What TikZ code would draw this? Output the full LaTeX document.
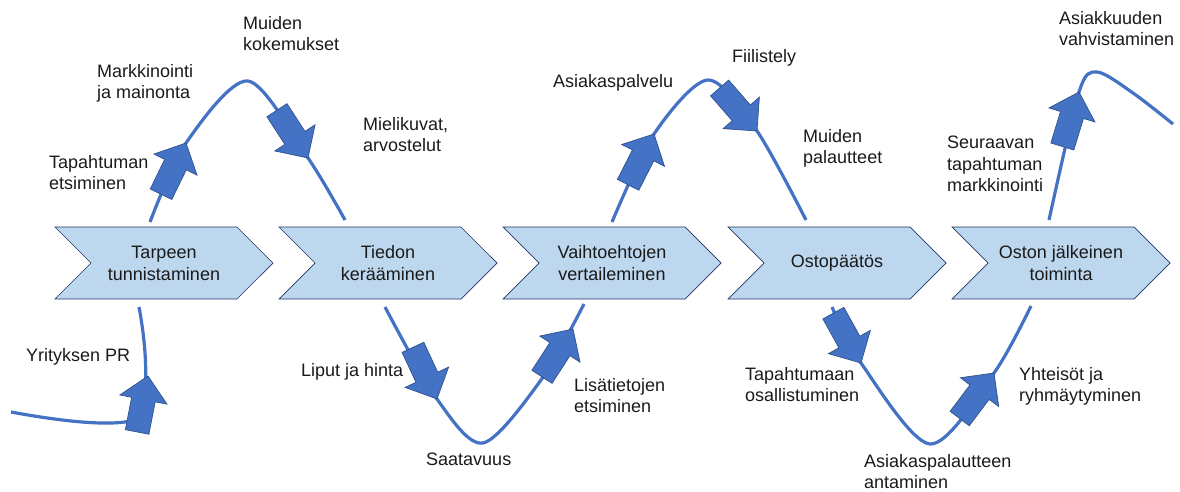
\documentclass[tikz,border=0pt]{standalone}
\usepackage{fontspec}
\setmainfont{Liberation Sans}
\usetikzlibrary{shapes.symbols}
\definecolor{stepfill}{HTML}{BDD7EE}
\definecolor{stepedge}{HTML}{203864}
\definecolor{pathblue}{HTML}{4472C4}
\definecolor{arrowedge}{HTML}{2F528F}
\definecolor{labelink}{HTML}{1A1A1A}
\tikzset{
  stage/.style={signal,signal from=west,signal to=east,signal pointer angle=90,
                draw=stepedge,fill=stepfill,line width=0.7pt,
                minimum width=218pt,minimum height=72pt,inner sep=0pt,
                align=center,font=\fontsize{18}{22}\selectfont,text=labelink},
  journey/.style={draw=pathblue,line width=3.2pt},
  push/.style={draw=arrowedge,fill=pathblue,line width=0.7pt,line join=miter},
  pusharrow/.pic={
    \path[push] (0,0) -- (-24,24) -- (-24,12) -- (-57,12)
                -- (-57,-12) -- (-24,-12) -- (-24,-24) -- cycle;
  },
  touch/.style={anchor=north west,inner sep=0pt,align=left,
                font=\fontsize{18}{21.5}\selectfont,text=labelink}
}
\begin{document}
\begin{tikzpicture}[x=1pt,y=-1pt]
  \useasboundingbox (0,0) rectangle (1180,492);
  % stages
  \node[stage] (need)    at (164,263)  {Tarpeen\\tunnistaminen};
  \node[stage] (info)    at (388,263)  {Tiedon\\kerääminen};
  \node[stage] (compare) at (612,263)  {Vaihtoehtojen\\vertaileminen};
  \node[stage] (decide)  at (837,263)  {Ostopäätös};
  \node[stage] (after)   at (1061,263) {Oston jälkeinen\\toiminta};
  % customer path
  \draw[journey] (11,412) .. controls (60,421) and (110,427) .. (135,420)
                 .. controls (148,410) and (149,360) .. (139,307);
  \draw[journey] plot[smooth] coordinates {(150,222) (186,143) (248,81) (308,158) (345,220)};
  \draw[journey] plot[smooth] coordinates {(385,307) (437,399) (483,443) (541,380) (584,304)};
  \draw[journey] plot[smooth] coordinates {(612,222) (654,134) (708,80) (757,131) (806,220)};
  \draw[journey] plot[smooth] coordinates {(832,307) (861,363) (930,444) (994,373) (1031,306)};
  \draw[journey] plot[smooth] coordinates {(1049,220) (1079,92) (1097,72) (1133,93) (1173,124)};
  % touchpoint arrows
  \pic[rotate=79]  at (148,376) {pusharrow};
  \pic[rotate=64]  at (186,143) {pusharrow};
  \pic[rotate=-57] at (308,158) {pusharrow};
  \pic[rotate=-65] at (437,399) {pusharrow};
  \pic[rotate=57]  at (573,329) {pusharrow};
  \pic[rotate=63]  at (654,134) {pusharrow};
  \pic[rotate=-49] at (757,131) {pusharrow};
  \pic[rotate=-61] at (861,363) {pusharrow};
  \pic[rotate=53]  at (994,373) {pusharrow};
  \pic[rotate=73]  at (1079,92) {pusharrow};
  % labels
  \node[touch] (l1)  at (243,16)  {Muiden\\kokemukset};
  \node[touch] (l2)  at (97,64)   {Markkinointi\\ja mainonta};
  \node[touch] (l3)  at (49,155)  {Tapahtuman\\etsiminen};
  \node[touch] (l4)  at (363,117) {Mielikuvat,\\arvostelut};
  \node[touch] (l5)  at (26,348)  {Yrityksen PR};
  \node[touch] (l6)  at (301,363) {Liput ja hinta};
  \node[touch] (l7)  at (426,453) {Saatavuus};
  \node[touch] (l8)  at (574,378) {Lisätietojen\\etsiminen};
  \node[touch] (l9)  at (553,74)  {Asiakaspalvelu};
  \node[touch] (l10) at (732,49)  {Fiilistely};
  \node[touch] (l11) at (803,129) {Muiden\\palautteet};
  \node[touch] (l12) at (745,367) {Tapahtumaan\\osallistuminen};
  \node[touch] (l13) at (864,454) {Asiakaspalautteen\\antaminen};
  \node[touch] (l14) at (1019,367) {Yhteisöt ja\\ryhmäytyminen};
  \node[touch] (l15) at (947,136) {Seuraavan\\tapahtuman\\markkinointi};
  \node[touch] (l16) at (1059,11) {Asiakkuuden\\vahvistaminen};
\end{tikzpicture}
\end{document}
